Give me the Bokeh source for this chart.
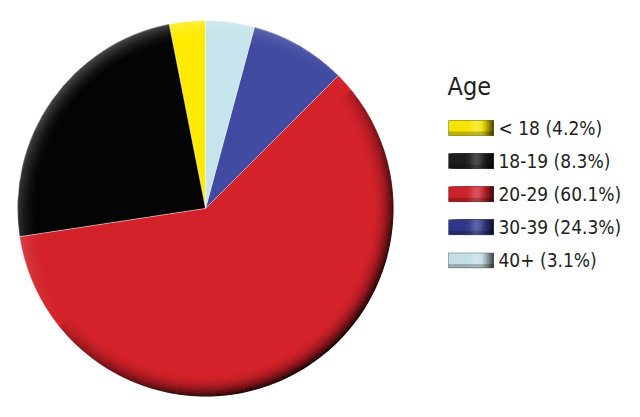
import numpy as np
from bokeh.plotting import figure
from bokeh.models import Range1d, ColumnDataSource
from bokeh.embed import file_html
from bokeh.resources import INLINE
from bokeh.core.properties import value

# ---- data ----
title = "Age"
categories = ["< 18", "18-19", "20-29", "30-39", "40+"]
legend_pct = [4.2, 8.3, 60.1, 24.3, 3.1]      # as printed in the legend
slice_pct = [3.1, 24.3, 60.1, 8.3, 4.2]       # slice sizes as drawn in the pie
colors = ["#FFEA00", "#040404", "#D3222A", "#3F4AA0", "#C6E4EB"]
swatch_colors = ["#F4E400", "#1C1C1C", "#CC222A", "#2E3788", "#C4DEE3"]

W, H = 624, 401
FONT = "'Liberation Sans Narrow', 'DejaVu Sans Condensed', 'Noto Sans', sans-serif"

p = figure(width=W, height=H, x_range=Range1d(0, W), y_range=Range1d(0, H),
           output_backend="svg", toolbar_location=None, min_border=0)
p.axis.visible = False
p.grid.visible = False
p.outline_line_color = None
p.background_fill_color = "white"
p.border_fill_color = "white"

# ---- pie ----
cx, cy, R = 205, 401 - 208, 188
frac = np.array(slice_pct) / sum(slice_pct)
ends = np.pi / 2 + 2 * np.pi * np.cumsum(frac)
starts = ends - 2 * np.pi * frac
p.wedge(x=cx, y=cy, radius=R, start_angle=starts, end_angle=ends,
        fill_color=colors, line_color="white", line_alpha=0.45, line_width=0.8)

# rim shading (shadow bottom-right, highlight top-left)
n_r, n_a = 12, 120
r0 = 0.88 * R
th_s = np.deg2rad(-50)
ir, orr, sa, ea, fc, fa = [], [], [], [], [], []
for i in range(n_r):
    t = (i + 0.5) / n_r
    a_in = r0 + (R - r0) * i / n_r
    a_out = r0 + (R - r0) * (i + 1) / n_r
    for j in range(n_a):
        a1 = 2 * np.pi * j / n_a
        a2 = 2 * np.pi * (j + 1) / n_a
        am = 0.5 * (a1 + a2)
        c = np.cos(am - th_s)
        if c >= 0:
            col, al = "black", 0.15 * t ** 3 + 0.85 * t ** 2.2 * c ** 0.7
        else:
            col, al = "white", 0.30 * t ** 2 * (-c)
        ir.append(a_in); orr.append(a_out); sa.append(a1); ea.append(a2)
        fc.append(col); fa.append(min(al, 0.95))
shade = ColumnDataSource(dict(ir=ir, orr=orr, sa=sa, ea=ea, fc=fc, fa=fa))
p.annular_wedge(x=cx, y=cy, inner_radius="ir", outer_radius="orr",
                start_angle="sa", end_angle="ea", fill_color="fc", fill_alpha="fa",
                line_color=None, source=shade)

# ---- legend ----
sx0, sw, sh = 448, 45, 15
row0, step = 401 - 127.5, 33.1
row_y = [row0 - k * step for k in range(len(categories))]

def hex2rgb(h):
    h = h.lstrip("#")
    return np.array([int(h[k:k + 2], 16) for k in (0, 2, 4)], float)

cells = dict(l=[], r=[], t=[], b=[], c=[])
nx = 30
for k, base in enumerate(swatch_colors):
    b = hex2rgb(base)
    for ix in range(nx):
        u = (ix + 0.5) / nx
        hl = 0.22 * np.exp(-((u - 0.62) / 0.14) ** 2)
        dk = 0.7 * max(0.0, (u - 0.72) / 0.28) ** 1.3
        col = np.clip(b * (1 - dk) * (1 - hl) + 255 * hl, 0, 255)
        cells["l"].append(sx0 + ix * sw / nx)
        cells["r"].append(sx0 + sw)
        cells["t"].append(row_y[k] + sh / 2)
        cells["b"].append(row_y[k] - sh / 2)
        cells["c"].append("#%02x%02x%02x" % tuple(int(c) for c in col))
p.quad(left="l", right="r", top="t", bottom="b", fill_color="c", line_color=None,
       source=ColumnDataSource(cells))
# darker lower edge of each swatch
p.rect(x=[sx0 + sw / 2] * len(row_y), y=[y - sh / 2 + 2 for y in row_y], width=sw, height=4,
       fill_color="black", fill_alpha=0.22, line_color=None)
p.rect(x=[sx0 + sw / 2] * len(row_y), y=row_y, width=sw, height=sh,
       fill_color=None, line_color="#444444", line_alpha=0.5, line_width=0.8)

labels = [f"{c} ({v}%)" for c, v in zip(categories, legend_pct)]
p.text(x=[498] * len(labels), y=row_y, text=labels, text_font=value(FONT),
       text_font_size="19px", text_baseline="middle", text_color="#231F20")
p.text(x=[447], y=[401 - 86], text=[title], text_font=value(FONT),
       text_font_size="25px", text_baseline="alphabetic", text_color="#231F20")

open("out.html", "w").write(file_html(p, INLINE))
